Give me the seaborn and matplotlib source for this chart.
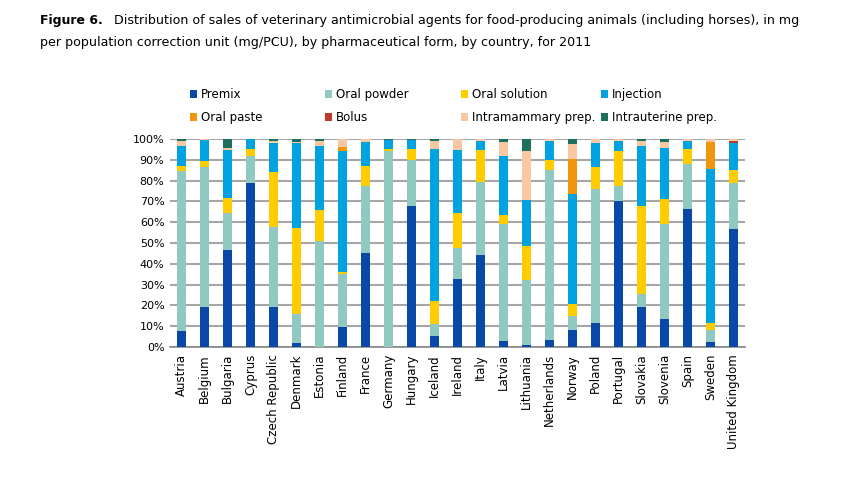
import numpy as np
import pandas as pd
import seaborn as sns
import matplotlib
matplotlib.use("Agg")
import matplotlib.pyplot as plt
from matplotlib.patches import Patch

countries = ["Austria", "Belgium", "Bulgaria", "Cyprus", "Czech Republic", "Denmark",
             "Estonia", "Finland", "France", "Germany", "Hungary", "Iceland", "Ireland",
             "Italy", "Latvia", "Lithuania", "Netherlands", "Norway", "Poland", "Portugal",
             "Slovakia", "Slovenia", "Spain", "Sweden", "United Kingdom"]

premix        = [7.5, 19.3, 46.5, 79.0, 19.3, 2.1, 0.0, 9.6, 45.4, 0.0, 67.7, 5.1, 32.6,
                 44.1, 2.7, 0.8, 3.2, 8.3, 11.7, 70.3, 19.3, 13.6, 66.3, 2.2, 56.5]
oral_powder   = [77.2, 67.4, 17.7, 13.0, 38.5, 14.0, 51.0, 25.7, 32.0, 94.4, 22.3, 6.1, 14.8,
                 35.4, 56.2, 31.3, 81.9, 6.6, 64.5, 7.1, 6.1, 45.3, 21.5, 5.8, 22.5]
oral_solution = [2.3, 2.8, 7.2, 3.2, 26.5, 40.9, 14.8, 0.8, 9.6, 1.0, 5.3, 11.0, 16.8,
                 15.3, 4.8, 16.4, 4.8, 5.6, 10.1, 17.0, 42.5, 12.2, 7.4, 3.6, 6.1]
injection     = [9.7, 9.9, 23.3, 4.8, 13.7, 41.0, 30.6, 57.9, 11.7, 4.1, 4.1, 72.8, 30.6,
                 4.2, 28.3, 22.1, 8.9, 53.0, 11.7, 4.6, 28.5, 24.5, 3.8, 74.2, 12.9]
oral_paste    = [0, 0, 0, 0, 0, 0, 0, 2.3, 0, 0, 0, 0.4, 0,
                 0, 0, 0, 0, 17.0, 0, 0, 0, 0, 0, 12.9, 0]
bolus         = [0, 0, 0, 0, 0, 0, 0, 0, 0, 0, 0, 0, 0,
                 0, 0, 0, 0, 0, 0, 0, 0, 0, 0, 0, 0.8]
intramammary  = [2.3, 0.6, 0.8, 0, 1.0, 0.5, 2.6, 3.7, 1.3, 0, 0, 3.7, 5.2,
                 1.0, 6.6, 23.5, 1.2, 7.0, 2.0, 1.0, 2.6, 2.8, 1.0, 1.3, 1.2]
intrauterine  = [1.0, 0, 4.5, 0, 1.0, 1.5, 1.0, 0, 0, 0.5, 0.6, 0.9, 0,
                 0, 1.4, 5.9, 0, 2.5, 0, 0, 1.0, 1.6, 0, 0, 0]

series_names = ["Premix", "Oral powder", "Oral solution", "Injection",
                "Oral paste", "Bolus", "Intramammary prep.", "Intrauterine prep."]
series_vals = [premix, oral_powder, oral_solution, injection,
               oral_paste, bolus, intramammary, intrauterine]
colors = ["#0a48a8", "#8fc9c1", "#ffcc00", "#00a2e0",
          "#f0950c", "#c0392b", "#f8c8a2", "#1d6f5e"]

df = pd.DataFrame({"country": countries})
for n, v in zip(series_names, series_vals):
    df[n] = v
cum = df[series_names].cumsum(axis=1)

sns.set_theme(style="white")
plt.rcParams["font.family"] = ["DejaVu Sans"]
plt.rcParams["text.color"] = "black"
plt.rcParams["xtick.color"] = "black"
plt.rcParams["ytick.color"] = "black"

fig = plt.figure(figsize=(8.44, 4.78), dpi=100)
ax = fig.add_axes([170 / 844, 1 - 347 / 478, 575 / 844, 208 / 478])

for n, c in reversed(list(zip(series_names, colors))):
    sns.barplot(x=df["country"], y=cum[n], color=c, width=0.4, ax=ax,
                saturation=1, zorder=3, linewidth=0)

ax.set_ylim(0, 100)
ax.set_xlim(-0.5, len(countries) - 0.5)
ax.set_yticks(np.arange(0, 101, 10))
ax.set_yticklabels([f"{t}%" for t in range(0, 101, 10)], fontsize=8)
ax.set_xticks(range(len(countries)))
ax.set_xticklabels(countries, rotation=90, fontsize=8.5)
ax.set_xticks(np.arange(-0.5, len(countries), 1), minor=True)
ax.tick_params(axis="x", which="major", length=0, pad=5)
ax.tick_params(axis="x", which="minor", length=4, color="#888888", width=1, direction="out")
ax.tick_params(axis="y", length=0, pad=4)
ax.set_xlabel("")
ax.set_ylabel("")
ax.yaxis.grid(True, color="#a6a6a6", linewidth=1.5, zorder=0)
ax.set_axisbelow(True)
for s in ["top", "right", "left"]:
    ax.spines[s].set_visible(False)
ax.spines["bottom"].set_color("#888888")
ax.spines["bottom"].set_linewidth(1.2)

# legend: 4 fixed-position columns, 2 rows
col_x = [190, 325, 461, 601]
for j in range(4):
    hs = [Patch(facecolor=colors[j], edgecolor="none"),
          Patch(facecolor=colors[j + 4], edgecolor="none")]
    ls = [series_names[j], series_names[j + 4]]
    fig.legend(hs, ls, loc="upper left", bbox_to_anchor=(col_x[j] / 844, 1 - 88 / 478),
               frameon=False, fontsize=8.5, handlelength=0.6, handleheight=0.6,
               handletextpad=0.3, labelspacing=0.85, borderpad=0, borderaxespad=0)

fig.text(40 / 844, 1 - 24 / 478, "Figure 6.", fontsize=9, fontweight="bold", va="baseline")
fig.text(114 / 844, 1 - 24 / 478,
         "Distribution of sales of veterinary antimicrobial agents for food-producing animals (including horses), in mg",
         fontsize=9.1, va="baseline")
fig.text(40 / 844, 1 - 46 / 478,
         "per population correction unit (mg/PCU), by pharmaceutical form, by country, for 2011",
         fontsize=9.1, va="baseline")

fig.savefig("out.png", dpi=100)
